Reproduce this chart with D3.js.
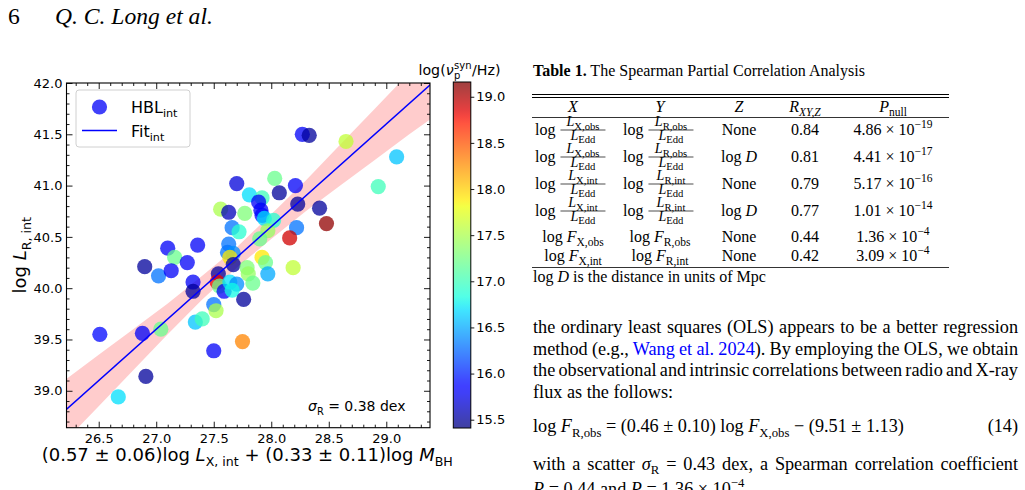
<!DOCTYPE html>
<html>
<head>
<meta charset="utf-8">
<script src="https://cdn.jsdelivr.net/npm/d3@7"></script>
<style>
body { margin: 0; background: #fff; }
text { white-space: pre; }
</style>
</head>
<body>
<script>
// ---- scatter data (x = 0.57 log Lx + 0.33 log Mbh, y = log L_R,int, c = log nu_p^syn) ----
var ptX = [26.51, 26.88, 27.04, 26.91, 26.67, 26.90, 27.02, 27.10, 27.16, 27.13,
           27.27, 27.36, 27.32, 27.32, 27.54, 27.53, 27.55, 27.59, 27.63, 27.62,
           27.67, 27.64, 27.67, 27.70, 27.81, 27.56, 27.63, 27.77, 27.66, 27.72,
           28.03, 28.07, 28.21, 28.23, 28.42, 27.92, 27.89, 27.91, 27.92, 27.94,
           28.02, 27.97, 27.90, 28.22, 28.16, 28.48, 28.27, 28.33, 28.65, 29.09,
           28.93, 27.92, 27.95, 27.79, 27.80, 27.84, 27.97, 28.19, 27.64, 27.70,
           27.66, 27.76, 27.50, 27.52, 27.34, 27.40, 27.75, 27.50];
var ptY = [39.55, 39.56, 39.60, 39.14, 38.94, 40.21, 40.12, 40.39, 40.30, 40.17,
           40.25, 40.42, 40.06, 39.97, 40.14, 40.06, 40.02, 39.97, 40.43, 40.35,
           40.34, 40.30, 40.23, 41.02, 40.91, 40.77, 40.74, 40.73, 40.59, 40.55,
           41.07, 40.93, 41.00, 40.82, 40.78, 40.88, 40.84, 40.76, 40.71, 40.68,
           40.66, 40.56, 40.48, 40.59, 40.49, 40.63, 41.50, 41.49, 41.43, 41.28,
           40.99, 40.30, 40.25, 40.20, 40.14, 40.05, 40.14, 40.20, 40.06, 40.04,
           39.98, 39.89, 39.84, 39.78, 39.67, 39.70, 39.48, 39.39];
var ptNu = [15.9, 15.8, 17.2, 15.5, 16.7, 15.5, 16.3, 15.8, 17.2, 15.8,
            15.8, 15.8, 15.8, 15.5, 15.5, 18.8, 17.2, 15.8, 16.3, 16.3,
            16.4, 17.9, 15.5, 15.7, 16.7, 17.5, 15.6, 17.3, 16.3, 16.9,
            17.2, 15.5, 15.8, 15.5, 15.5, 17.0, 15.8, 15.8, 15.9, 16.7,
            16.9, 17.4, 17.2, 16.3, 18.9, 19.1, 15.8, 15.5, 17.6, 16.6,
            17.0, 17.9, 17.2, 17.3, 17.4, 17.2, 16.5, 17.6, 16.7, 16.4,
            16.8, 15.5, 16.3, 17.5, 16.6, 17.0, 18.3, 15.8];

// fit line and its confidence band
var fitX = [26.2, 29.4];
var fitY = [38.80, 42.00];
var bandX  = [26.2, 26.5, 26.8, 27.1, 27.4, 27.7, 28.0, 28.3, 28.6, 28.9, 29.2, 29.4];
var bandHi = [39.10, 39.35, 39.60, 39.85, 40.12, 40.40, 40.72, 41.05, 41.40, 41.75, 42.10, 42.34];
var bandLo = [38.50, 38.85, 39.20, 39.55, 39.89, 40.20, 40.48, 40.75, 41.00, 41.25, 41.50, 41.66];

var xTicks = [26.5, 27.0, 27.5, 28.0, 28.5, 29.0];
var yTicks = [39.0, 39.5, 40.0, 40.5, 41.0, 41.5, 42.0];
var cTicks = [15.5, 16.0, 16.5, 17.0, 17.5, 18.0, 18.5, 19.0];

// ---- table 1 ----
var rowKind = ["frac", "frac", "frac", "frac", "flux", "flux"];
var rowXsub = ["X,obs", "X,obs", "X,int", "X,int", "X,obs", "X,int"];
var rowYsub = ["R,obs", "R,obs", "R,int", "R,int", "R,obs", "R,int"];
var rowZ    = ["None", "logD", "None", "logD", "None", "None"];
var rowR    = ["0.84", "0.81", "0.79", "0.77", "0.44", "0.42"];
var rowPm   = ["4.86", "4.41", "5.17", "1.01", "1.36", "3.09"];
var rowPe   = ["\u221219", "\u221217", "\u221216", "\u221214", "\u22124", "\u22124"];

var W = 1025, H = 490;
var svg = d3.select("body").append("svg").attr("width", W).attr("height", H);
svg.append("rect").attr("width", W).attr("height", H).attr("fill", "#fff");

var SANS = "DejaVu Sans", SERIF = "Liberation Serif";

// rich text helper: parts = [{t, it, sub, sup, fill, size, bold}]
function rich(sel, parts, base) {
    var off = 0;
    parts.forEach(function(p) {
        if (typeof p === "string") p = {t: p};
        var ts = sel.append("tspan").text(p.t);
        var target = p.sub ? base * 0.25 : (p.sup ? -base * 0.42 : 0);
        ts.attr("dy", target - off);
        off = target;
        if (p.sub || p.sup) ts.attr("font-size", p.size || base * 0.7);
        if (p.it) ts.attr("font-style", "italic");
        if (p.bold) ts.attr("font-weight", "bold");
        if (p.fill) ts.attr("fill", p.fill);
    });
    return sel;
}
// width of a plain string at a given size (used to size the page text)
function measure(str, family, size, style) {
    var t = svg.append("text").attr("font-family", family).attr("font-size", size)
        .attr("font-style", style || "normal").text(str);
    var w = t.node().getComputedTextLength();
    t.remove();
    return w;
}

// jet colormap
var jr = d3.scaleLinear().domain([0, 0.35, 0.66, 0.89, 1]).range([0, 0, 1, 1, 0.5]).clamp(true);
var jg = d3.scaleLinear().domain([0, 0.125, 0.375, 0.64, 0.91, 1]).range([0, 0, 1, 1, 0, 0]).clamp(true);
var jb = d3.scaleLinear().domain([0, 0.11, 0.34, 0.65, 1]).range([0.5, 1, 1, 0, 0]).clamp(true);
function jet(t) { return d3.rgb(255 * jr(t), 255 * jg(t), 255 * jb(t)).formatHex(); }
var cMin = 15.41, cMax = 19.16;
var cNorm = d3.scaleLinear().domain([cMin, cMax]).range([0, 1]).clamp(true);

// ---- header ----
var hfs = 20 * 158 / measure("Q. C. Long et al.", SERIF, 20, "italic");
svg.append("text").attr("x", 8).attr("y", 24).attr("font-family", SERIF).attr("font-size", hfs).text("6");
svg.append("text").attr("x", 55).attr("y", 24).attr("font-family", SERIF).attr("font-size", hfs)
    .attr("font-style", "italic").text("Q. C. Long et al.");

// ---- scatter plot ----
var L = 66.5, R = 430, T = 83, B = 427.7;
var x = d3.scaleLinear().domain([26.22, 29.38]).range([L, R]);
var y = d3.scaleLinear().domain([38.64, 42.0]).range([B, T]);

svg.append("clipPath").attr("id", "plotclip").append("rect")
    .attr("x", L).attr("y", T).attr("width", R - L).attr("height", B - T);
var plot = svg.append("g").attr("clip-path", "url(#plotclip)");

var band = d3.area().x(function(d, i) { return x(bandX[i]); })
    .y0(function(d, i) { return y(bandLo[i]); })
    .y1(function(d, i) { return y(bandHi[i]); });
plot.append("path").datum(bandX).attr("d", band).attr("fill", "red").attr("fill-opacity", 0.2);

plot.selectAll("circle.pt").data(ptX).enter().append("circle")
    .attr("class", "pt")
    .attr("cx", function(d) { return x(d); })
    .attr("cy", function(d, i) { return y(ptY[i]); })
    .attr("r", 7.6)
    .attr("fill", function(d, i) { return jet(cNorm(ptNu[i])); })
    .attr("fill-opacity", 0.75);

plot.append("path").datum(fitX)
    .attr("d", d3.line().x(function(d) { return x(d); }).y(function(d, i) { return y(fitY[i]); }))
    .attr("stroke", "#0000ff").attr("stroke-width", 1.5).attr("fill", "none");

// axes (ticks pointing in, as matplotlib)
var fmt = d3.format(".1f");
function notHalf(v) { return Math.abs(v * 2 - Math.round(v * 2)) > 1e-6; }
var xMinor = d3.range(263, 294).map(function(v) { return v / 10; }).filter(notHalf);
var yMinor = d3.range(387, 420).map(function(v) { return v / 10; }).filter(notHalf);

function styleAxis(g) {
    g.select(".domain").remove();
    g.selectAll("line").attr("stroke", "#000").attr("stroke-width", 0.9);
    g.selectAll("text").attr("font-family", SANS).attr("font-size", 13).attr("fill", "#000");
}
function ax(gen, tr) { return svg.append("g").attr("transform", tr).call(gen).call(styleAxis); }
ax(d3.axisBottom(x).tickValues(xTicks).tickFormat(fmt).tickSizeInner(-6).tickSizeOuter(0).tickPadding(6), "translate(0," + B + ")");
ax(d3.axisBottom(x).tickValues(xMinor).tickFormat("").tickSizeInner(-3).tickSizeOuter(0), "translate(0," + B + ")");
ax(d3.axisTop(x).tickValues(xTicks).tickFormat("").tickSizeInner(-6).tickSizeOuter(0), "translate(0," + T + ")");
ax(d3.axisTop(x).tickValues(xMinor).tickFormat("").tickSizeInner(-3).tickSizeOuter(0), "translate(0," + T + ")");
ax(d3.axisLeft(y).tickValues(yTicks).tickFormat(fmt).tickSizeInner(-6).tickSizeOuter(0).tickPadding(4), "translate(" + L + ",0)");
ax(d3.axisLeft(y).tickValues(yMinor).tickFormat("").tickSizeInner(-3).tickSizeOuter(0), "translate(" + L + ",0)");
ax(d3.axisRight(y).tickValues(yTicks).tickFormat("").tickSizeInner(-6).tickSizeOuter(0), "translate(" + R + ",0)");
ax(d3.axisRight(y).tickValues(yMinor).tickFormat("").tickSizeInner(-3).tickSizeOuter(0), "translate(" + R + ",0)");

svg.append("rect").attr("x", L).attr("y", T).attr("width", R - L).attr("height", B - T)
    .attr("fill", "none").attr("stroke", "#000").attr("stroke-width", 1.1);

// axis labels
rich(svg.append("text").attr("x", (L + R) / 2 - 1).attr("y", 461).attr("text-anchor", "middle")
    .attr("font-family", SANS).attr("font-size", 18),
    ["(0.57 \u00b1 0.06)log ", {t: "L", it: true}, {t: "X, int", sub: true}, " + (0.33 \u00b1 0.11)log ",
     {t: "M", it: true}, {t: "BH", sub: true}], 18);
rich(svg.append("text").attr("transform", "translate(26," + ((T + B) / 2) + ") rotate(-90)")
    .attr("text-anchor", "middle").attr("font-family", SANS).attr("font-size", 18),
    ["log ", {t: "L", it: true}, {t: "R, int", sub: true}], 18);

// sigma annotation
rich(svg.append("text").attr("x", 308).attr("y", 411).attr("font-family", SANS).attr("font-size", 14),
    [{t: "\u03c3", it: true}, {t: "R", sub: true}, " = 0.38 dex"], 14);

// legend
var lg = svg.append("g");
lg.append("rect").attr("x", 76).attr("y", 90).attr("width", 114).attr("height", 57).attr("rx", 3)
    .attr("fill", "#fff").attr("fill-opacity", 0.8).attr("stroke", "#d0d0d0").attr("stroke-width", 1);
lg.append("circle").attr("cx", 99.5).attr("cy", 107).attr("r", 7.6)
    .attr("fill", jet(cNorm(15.8))).attr("fill-opacity", 0.75);
rich(lg.append("text").attr("x", 131).attr("y", 113).attr("font-family", SANS).attr("font-size", 16),
    ["HBL", {t: "int", sub: true}], 16);
lg.append("line").attr("x1", 82).attr("x2", 117).attr("y1", 130.5).attr("y2", 130.5)
    .attr("stroke", "#0000ff").attr("stroke-width", 1.5);
rich(lg.append("text").attr("x", 131).attr("y", 137).attr("font-family", SANS).attr("font-size", 16),
    ["Fit", {t: "int", sub: true}], 16);

// colorbar
var cbL = 453.3, cbW = 17.5;
var cy = d3.scaleLinear().domain([cMin, cMax]).range([428, 82]);
var grad = svg.append("defs").append("linearGradient").attr("id", "jetgrad")
    .attr("x1", 0).attr("y1", 1).attr("x2", 0).attr("y2", 0);
d3.range(0, 1.0001, 0.02).forEach(function(t) {
    grad.append("stop").attr("offset", t).attr("stop-color", jet(t)).attr("stop-opacity", 0.75);
});
svg.append("rect").attr("x", cbL).attr("y", 82).attr("width", cbW).attr("height", 346)
    .attr("fill", "url(#jetgrad)").attr("stroke", "#000").attr("stroke-width", 1);
ax(d3.axisRight(cy).tickValues(cTicks).tickFormat(fmt).tickSizeInner(3.5).tickSizeOuter(0).tickPadding(2),
   "translate(" + (cbL + cbW) + ",0)");

// colorbar title log(nu_p^syn/Hz)
var ct = svg.append("g").attr("font-family", SANS);
var ctx0 = 418.5, cfs = 14.2;
var t1 = ct.append("text").attr("x", ctx0).attr("y", 75).attr("font-size", cfs);
rich(t1, ["log(", {t: "\u03bd", it: true}], cfs);
var w1 = t1.node().getComputedTextLength();
var tsup = ct.append("text").attr("x", ctx0 + w1 + 0.5).attr("y", 69).attr("font-size", 10).text("syn");
ct.append("text").attr("x", ctx0 + w1 + 0.5).attr("y", 79).attr("font-size", 10).text("p");
var wsup = tsup.node().getComputedTextLength();
ct.append("text").attr("x", ctx0 + w1 + wsup + 1).attr("y", 75).attr("font-size", cfs).text("/Hz)");

// ---- Table 1 ----
var tb = svg.append("g").attr("font-family", SERIF).attr("fill", "#000");
var fs = 13 * 330 / measure("Table 1. The Spearman Partial Correlation Analysis", SERIF, 13);
rich(tb.append("text").attr("x", 533).attr("y", 76).attr("font-size", fs),
    [{t: "Table 1.", bold: true}, " The Spearman Partial Correlation Analysis"], fs);

var tL = 532, tR = 949;
function hrule(yy, w) {
    tb.append("line").attr("x1", tL).attr("x2", tR).attr("y1", yy).attr("y2", yy)
        .attr("stroke", "#000").attr("stroke-width", w);
}
hrule(94.5, 1); hrule(97.5, 1); hrule(117.5, 0.8); hrule(267.5, 0.8);

var colX = 573, colY = 660, colZ = 739, colR = 805, colP = 893;
var subFs = fs * 0.72;
function cell(xx, yy, parts, size) {
    return rich(tb.append("text").attr("x", xx).attr("y", yy).attr("text-anchor", "middle")
        .attr("font-size", size || fs), parts, size || fs);
}
cell(colX, 112, [{t: "X", it: true}]);
cell(colY, 112, [{t: "Y", it: true}]);
cell(colZ, 112, [{t: "Z", it: true}]);
cell(colR, 112, [{t: "R", it: true}, {t: "XY,Z", sub: true, it: true, size: subFs}]);
cell(colP, 112, [{t: "P", it: true}, {t: "null", sub: true, size: subFs}]);

function fracCell(x0, barY, sub) {
    var lt = tb.append("text").attr("x", x0).attr("y", barY + 4.5).attr("font-size", fs).text("log");
    var fx0 = x0 + lt.node().getComputedTextLength() + 5, fw = 45, fc = fx0 + fw / 2;
    tb.append("line").attr("x1", fx0).attr("x2", fx0 + fw).attr("y1", barY).attr("y2", barY)
        .attr("stroke", "#000").attr("stroke-width", 0.7);
    cell(fc, barY - 4, [{t: "L", it: true}, {t: sub, sub: true, size: subFs * 0.92}], fs * 0.88);
    cell(fc, barY + 9.5, [{t: "L", it: true}, {t: "Edd", sub: true, size: subFs * 0.92}], fs * 0.88);
}
var rowBar = [130, 157, 184, 211];
var rowBase = [0, 0, 0, 0, 241.5, 260.5];
rowKind.forEach(function(k, i) {
    var base;
    if (k === "frac") {
        fracCell(535, rowBar[i], rowXsub[i]);
        fracCell(623, rowBar[i], rowYsub[i]);
        base = rowBar[i] + 4.5;
    } else {
        base = rowBase[i];
        cell(colX, base, ["log ", {t: "F", it: true}, {t: rowXsub[i], sub: true, size: subFs}]);
        cell(colY, base, ["log ", {t: "F", it: true}, {t: rowYsub[i], sub: true, size: subFs}]);
    }
    if (rowZ[i] === "logD") cell(colZ, base, ["log ", {t: "D", it: true}]);
    else cell(colZ, base, [rowZ[i]]);
    cell(colR, base, [rowR[i]]);
    cell(colP, base, [rowPm[i] + " \u00d7 10", {t: rowPe[i], sup: true, size: subFs}]);
});
rich(tb.append("text").attr("x", 533).attr("y", 282).attr("font-size", fs),
    ["log ", {t: "D", it: true}, " is the distance in units of Mpc"], fs);

// ---- body text ----
var bt = svg.append("g").attr("font-family", SERIF).attr("fill", "#000");
var TX = 533, TW = 485;
var BFS = 16 * 476 / measure("the ordinary least squares (OLS) appears to be a better regression", SERIF, 16);
var bsub = BFS * 0.7;
function para(yy, parts, just) {
    var t = bt.append("text").attr("x", TX).attr("y", yy).attr("font-size", BFS);
    rich(t, parts, BFS);
    if (just) {
        // justify by widening the word gaps
        var w = t.node().getComputedTextLength();
        var n = (t.text().match(/ /g) || []).length;
        t.attr("word-spacing", ((TW - w) / n).toFixed(2));
    }
    return t;
}
para(333, ["the ordinary least squares (OLS) appears to be a better regression"], true);
para(355, ["method (e.g., ", {t: "Wang et al. 2024", fill: "#0000ff"}, "). By employing the OLS, we obtain"], true);
para(376, ["the observational and intrinsic correlations between radio and X-ray"], true);
para(397.5, ["flux as the follows:"], false);
para(432, ["log ", {t: "F", it: true}, {t: "R,obs", sub: true, size: bsub}, " = (0.46 \u00b1 0.10) log ",
           {t: "F", it: true}, {t: "X,obs", sub: true, size: bsub}, " \u2212 (9.51 \u00b1 1.13)"], false);
bt.append("text").attr("x", TX + TW).attr("y", 432).attr("text-anchor", "end").attr("font-size", BFS).text("(14)");
para(469.5, ["with a scatter ", {t: "\u03c3", it: true}, {t: "R", sub: true, size: bsub},
             " = 0.43 dex, a Spearman correlation coefficient"], true);
para(495, [{t: "R", it: true}, " = 0.44 and ", {t: "P", it: true}, " = 1.36 \u00d7 10",
           {t: "\u22124", sup: true, size: bsub}], false);
</script>
</body>
</html>
